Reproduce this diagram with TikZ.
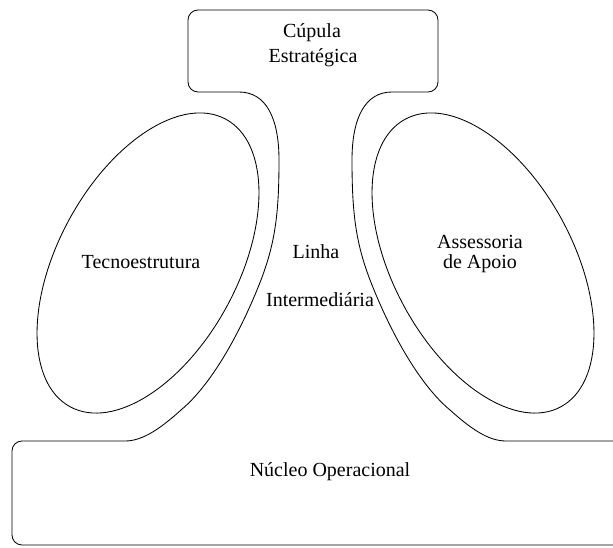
\documentclass[tikz,border=0pt]{standalone}
\usepackage{fontspec}
\setmainfont{Liberation Serif}
\begin{document}
\begin{tikzpicture}[x=1pt,y=1pt,
  outline/.style={line width=0.85pt, black},
  lbl/.style={font=\fontsize{20}{24}\selectfont, inner sep=0pt, anchor=base}]
\useasboundingbox[fill=white] (0,0) rectangle (613,-547);
\clip (0,0) rectangle (613,-547);
% outline of boxes and middle line
\draw[outline] (198,-92) -- (239,-92)
  .. controls (266,-92) and (279,-118) .. (279,-160)
  .. controls (279,-215) and (275,-245) .. (259,-285)
  .. controls (239,-335) and (211,-385) .. (181,-410)
  .. controls (161,-428) and (143,-441) .. (125,-441)
  -- (22,-441) arc[start angle=90, end angle=180, radius=10]
  -- (12,-535) arc[start angle=180, end angle=270, radius=10]
  -- (630,-545) arc[start angle=270, end angle=360, radius=10]
  -- (640,-451) arc[start angle=0, end angle=90, radius=10]
  -- (506,-441)
  .. controls (488,-441) and (470,-428) .. (450,-410)
  .. controls (420,-385) and (392,-335) .. (372,-285)
  .. controls (356,-245) and (352,-215) .. (352,-160)
  .. controls (352,-118) and (365,-92) .. (392,-92)
  -- (428,-92) arc[start angle=270, end angle=360, radius=10]
  -- (438,-20) arc[start angle=0, end angle=90, radius=10]
  -- (198,-10) arc[start angle=90, end angle=180, radius=10]
  -- (188,-82) arc[start angle=180, end angle=270, radius=10] -- cycle;
% ellipses
\draw[outline, rotate around={-28.4:(148,-263)}] (148,-263) ellipse[x radius=90, y radius=163.5];
\draw[outline, rotate around={28.4:(483,-263)}] (483,-263) ellipse[x radius=90, y radius=163.5];
% labels
\node[lbl] (cup1) at (312,-37) {Cúpula};
\node[lbl] (cup2) at (313,-62) {Estratégica};
\node[lbl] (tec) at (141,-268) {Tecnoestrutura};
\node[lbl] (lin1) at (316,-258) {Linha};
\node[lbl] (lin2) at (320,-306) {Intermediária};
\node[lbl] (ass1) at (480,-248) {Assessoria};
\node[lbl] (ass2) at (480,-268) {de Apoio};
\node[lbl] (nuc) at (330,-476) {Núcleo Operacional};
\end{tikzpicture}
\end{document}
